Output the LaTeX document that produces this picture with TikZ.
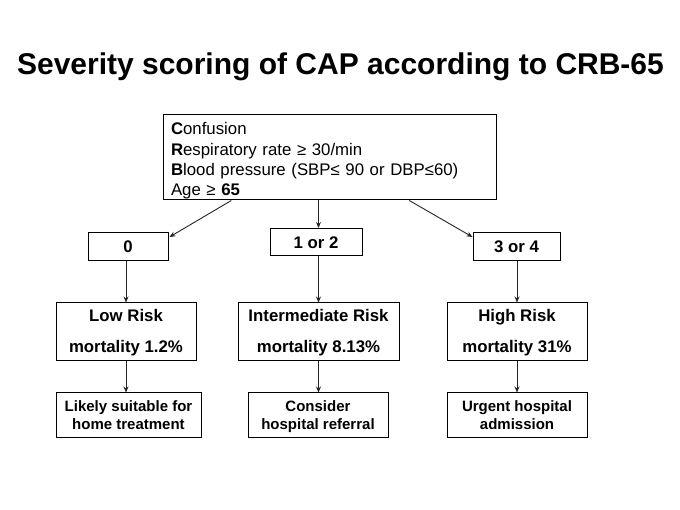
\documentclass[tikz,border=0pt]{standalone}
\usepackage{fontspec}
\setmainfont{Liberation Sans}
\usetikzlibrary{arrows.meta,calc}
\begin{document}
\begin{tikzpicture}[x=1pt,y=-1pt,
  box/.style={draw=black,line width=1pt,inner sep=0pt,align=center},
  numbox/.style={box,minimum height=28pt,font=\fontsize{16.8}{20}\selectfont\bfseries},
  riskbox/.style={box,minimum width=140pt,minimum height=58pt,font=\fontsize{16.8}{31}\selectfont\bfseries},
  actbox/.style={box,minimum width=140pt,minimum height=44pt,font=\fontsize{15}{17.6}\selectfont\bfseries},
  arr/.style={draw=black!85,line width=0.9pt,-{Stealth[length=6pt,width=5pt]}}]
\useasboundingbox[fill=white] (0,0) rectangle (680,510);
\newcommand\tstrut{\rule{0pt}{15pt}}
\newcommand\bstrut{\rule[-4pt]{0pt}{0pt}}

\node[anchor=base,font=\fontsize{30}{36}\selectfont\bfseries] (title) at (340.5,75) {Severity scoring of CAP according to CRB-65};

\node[box,minimum width=333pt,minimum height=85pt,text width=317pt,align=left,
      font=\fontsize{16.8}{20.3}\selectfont] (top) at (329.5,157.5)
  {\rule{0pt}{19.9pt}\textbf{C}onfusion\\
   \textbf{R}espiratory rate ≥ 30/min\\
   \textbf{B}lood pressure (SBP≤ 90 or DBP≤60)\\
   Age ≥ \textbf{65}\bstrut};

\node[numbox,minimum width=80pt] (n0) at (128,247) {0};
\node[numbox,minimum width=92pt,minimum height=27.5pt] (n12) at (316,242.25) {1 or 2};
\node[numbox,minimum width=87pt] (n34) at (516.5,247) {3 or 4};

\node[riskbox] (low) at (126,332) {\tstrut Low Risk\\mortality 1.2\%\bstrut};
\node[riskbox,minimum width=161pt] (inter) at (318.5,332) {\tstrut Intermediate Risk\\mortality 8.13\%\bstrut};
\node[riskbox] (high) at (517,332) {\tstrut High Risk\\mortality 31\%\bstrut};

\node[actbox,minimum width=145pt] (likely) at (128.5,415) {\tstrut Likely suitable for\\home treatment\bstrut};
\node[actbox] (consider) at (318,415) {\tstrut Consider\\hospital referral\bstrut};
\node[actbox] (urgent) at (517,415) {\tstrut Urgent hospital\\admission\bstrut};

% connectors from the criteria box
\draw[arr] ($(top.south west)!0.206!(top.south east)$) -- ($(n0.north east)+(1,4.5)$);
\coordinate (m12) at ($(n12.north)+(2.5,0)$);
\draw[arr] (m12 |- top.south) -- (m12);
\draw[arr] ($(top.south west)!0.739!(top.south east)$) -- ($(n34.north west)+(0,4.5)$);

% score -> risk
\draw[arr] (n0.south -| low.north) -- (low.north);
\draw[arr] (n12.south -| inter.north) -- (inter.north);
\draw[arr] (n34.south -| high.north) -- (high.north);

% risk -> action
\draw[arr] (low.south) -- (low.south |- likely.north);
\draw[arr] (inter.south) -- (inter.south |- consider.north);
\draw[arr] (high.south) -- (high.south |- urgent.north);
\end{tikzpicture}
\end{document}
